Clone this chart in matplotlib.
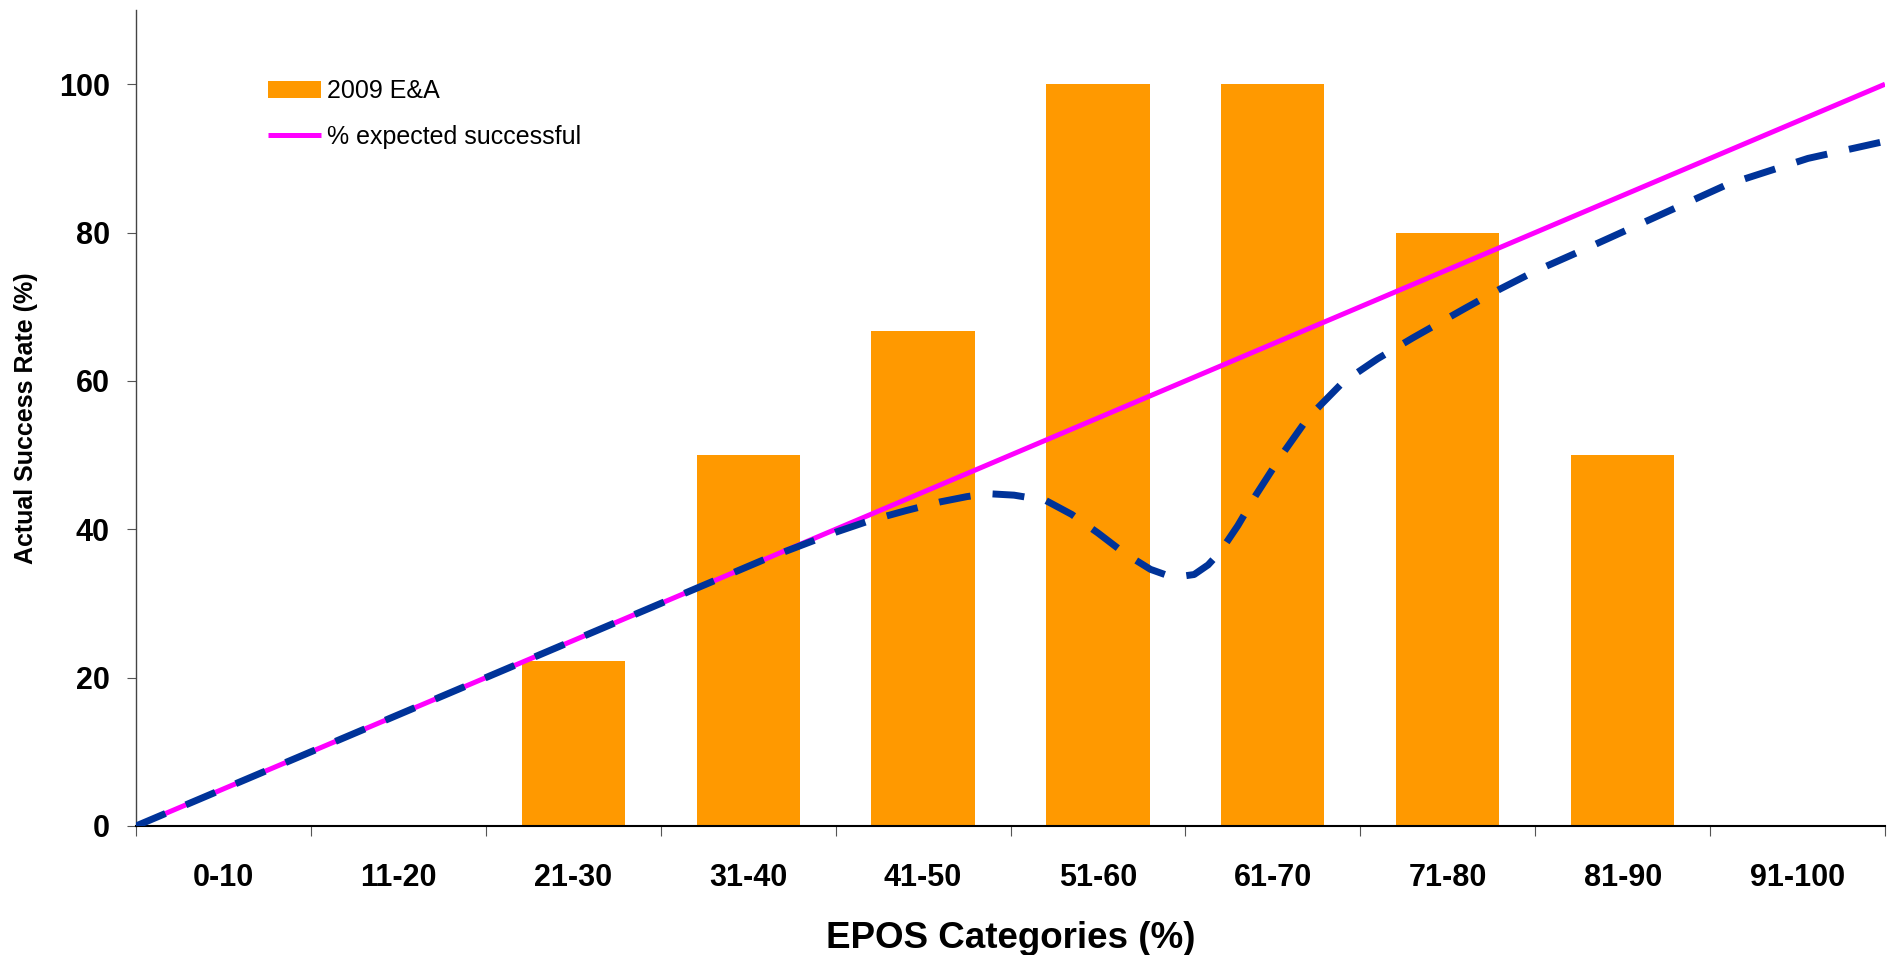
import matplotlib.pyplot as plt
import numpy as np

plt.rcParams['font.family'] = ['Liberation Sans', 'DejaVu Sans']

categories = ['0-10', '11-20', '21-30', '31-40', '41-50',
              '51-60', '61-70', '71-80', '81-90', '91-100']
success_2009 = [0, 0, 22.2, 50, 66.7, 100, 100, 80, 50, 0]

# expected success runs straight from 0 to 100 across the EPOS range
expected_x = [0, 100]
expected_y = [0, 100]

# observed success trend (smoothed curve, read along its length)
trend_x = [0, 10, 20, 30, 36, 40, 42, 44, 46, 47.5, 48.7, 50.2, 52, 53.5, 55,
           56.5, 58, 59.3, 60.5, 61.3, 62, 63, 64, 65.5, 67, 69, 71, 73, 76,
           78, 80, 82.3, 86.7, 91, 95.6, 100]
trend_y = [0, 10, 20, 30, 36, 39.6, 41.2, 42.5, 43.7, 44.4, 44.8, 44.6, 43.9,
           42.0, 39.5, 36.8, 34.6, 33.5, 33.9, 35.2, 37.0, 40.5, 44.5, 50.0,
           55.0, 59.8, 63.0, 65.8, 69.8, 72.4, 74.8, 77.2, 81.9, 86.5, 90.0,
           92.3]

edges = np.arange(0, 101, 10)
centers = edges[:-1] + 5

fig = plt.figure(figsize=(18.92, 9.55), dpi=100)
ax = fig.add_axes([0.0719, 0.1351, 0.9244, 0.8544])

bars = ax.bar(centers, success_2009, width=5.9, color='#FF9900', label='2009 E&A', zorder=2)
expected, = ax.plot(expected_x, expected_y, color='#FF00FF', lw=3.6,
                    label='% expected successful', zorder=3, solid_capstyle='butt')
trend, = ax.plot(trend_x, trend_y, color='#003399', lw=5, zorder=4)
trend.set_dashes([4.6, 3.2])
trend.set_dash_capstyle('butt')

ax.set_xlim(0, 100)
ax.set_ylim(0, 110)

ax.set_xticks(edges)
ax.set_xticklabels([])
ax.set_xticks(centers, minor=True)
ax.set_xticklabels(categories, minor=True, fontsize=22, fontweight='bold')
ax.tick_params(axis='x', which='major', length=7, width=0.8, direction='out', color='#555555')
ax.tick_params(axis='x', which='minor', length=0, pad=27)

ax.set_yticks(range(0, 101, 20))
ax.set_yticklabels([str(v) for v in range(0, 101, 20)], fontsize=22, fontweight='bold')
ax.tick_params(axis='y', length=6.5, width=0.8, direction='out', pad=12.5, color='#555555')

for side in ('top', 'right'):
    ax.spines[side].set_visible(False)
ax.spines['left'].set_color('#444444')
ax.spines['left'].set_linewidth(1.0)
ax.spines['bottom'].set_color('black')
ax.spines['bottom'].set_linewidth(1.5)

ax.set_xlabel('EPOS Categories (%)', fontsize=26.5, fontweight='bold', labelpad=20)
ax.set_ylabel('Actual Success Rate (%)', fontsize=18, fontweight='bold', labelpad=15)

ax.legend(handles=[bars, expected], loc='upper left', bbox_to_anchor=(0.0755, 0.915),
          frameon=False, fontsize=18, handlelength=2.1, handletextpad=0.25,
          labelspacing=0.85, borderpad=0, borderaxespad=0)

fig.savefig('out.png', dpi=100)
